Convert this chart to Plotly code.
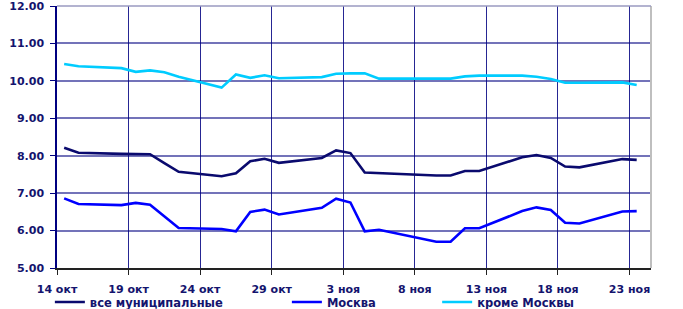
import plotly.graph_objects as go

dates = ["2010-10-14", "2010-10-15", "2010-10-18", "2010-10-19", "2010-10-20", "2010-10-21",
         "2010-10-22", "2010-10-25", "2010-10-26", "2010-10-27", "2010-10-28", "2010-10-29",
         "2010-11-01", "2010-11-02", "2010-11-03", "2010-11-04", "2010-11-05", "2010-11-09",
         "2010-11-10", "2010-11-11", "2010-11-12", "2010-11-15", "2010-11-16", "2010-11-17",
         "2010-11-18", "2010-11-19", "2010-11-22", "2010-11-23"]

all_munis = [8.21, 8.08, 8.05, 8.05, 8.04, 7.80, 7.57, 7.45, 7.53, 7.85, 7.92, 7.81,
             7.94, 8.14, 8.07, 7.55, 7.53, 7.47, 7.47, 7.59, 7.59, 7.96, 8.02, 7.94,
             7.71, 7.69, 7.91, 7.89]
moscow = [6.86, 6.71, 6.68, 6.74, 6.69, 6.38, 6.07, 6.04, 5.98, 6.50, 6.56, 6.43,
          6.61, 6.85, 6.75, 5.98, 6.02, 5.70, 5.70, 6.06, 6.06, 6.52, 6.62, 6.55,
          6.21, 6.19, 6.51, 6.52]
ex_moscow = [10.45, 10.39, 10.34, 10.24, 10.28, 10.23, 10.11, 9.82, 10.17, 10.08, 10.15, 10.07,
             10.10, 10.19, 10.20, 10.20, 10.06, 10.06, 10.06, 10.12, 10.14, 10.14, 10.11, 10.05,
             9.95, 9.95, 9.96, 9.89]

series_names = ["все муниципальные", "Москва", "кроме Москвы"]
series_colors = ["#0A0A6E", "#0000FF", "#00CCFF"]

tick_dates = ["2010-10-14", "2010-10-19", "2010-10-24", "2010-10-29", "2010-11-03",
              "2010-11-08", "2010-11-13", "2010-11-18", "2010-11-23"]
tick_labels = ["14 окт", "19 окт", "24 окт", "29 окт", "3 ноя", "8 ноя", "13 ноя", "18 ноя", "23 ноя"]
y_ticks = [5, 6, 7, 8, 9, 10, 11, 12]

TXT = "#14146E"
FONT = dict(family="DejaVu Sans", size=11, color=TXT, weight="bold")

fig = go.Figure()
legends = ["legend", "legend2", "legend3"]
for vals, name, col, lg in zip([all_munis, moscow, ex_moscow], series_names, series_colors, legends):
    fig.add_trace(go.Scatter(
        x=dates, y=vals, name=name, mode="lines",
        line=dict(color=col, width=2.6),
        xperiod=86400000, xperiodalignment="middle",
        legend=lg,
    ))

leg_common = dict(orientation="h", yanchor="middle", y=-0.13, xanchor="left",
                  font=dict(family="DejaVu Sans", size=11.5, color=TXT, weight="bold"),
                  bgcolor="rgba(0,0,0,0)", borderwidth=0, itemwidth=30)

fig.update_layout(
    width=683, height=309,
    margin=dict(l=57, r=32, t=6, b=41, autoexpand=False),
    paper_bgcolor="white", plot_bgcolor="white",
    showlegend=True,
    legend=dict(x=-0.012, **leg_common),
    legend2=dict(x=0.387, **leg_common),
    legend3=dict(x=0.640, **leg_common),
    xaxis=dict(
        type="date", automargin=False,
        range=["2010-10-14", "2010-11-24 12:00"],
        tickvals=tick_dates, ticktext=tick_labels,
        tickfont=FONT,
        showgrid=True, gridcolor="rgba(0,0,128,0.85)", gridwidth=1.2,
        showline=True, linecolor="#222222", linewidth=2,
        ticks="outside", ticklen=5, tickcolor="#222222",
        ticklabelstandoff=5,
        zeroline=False,
    ),
    yaxis=dict(
        automargin=False,
        range=[4.9999, 12.0001],
        tickvals=y_ticks, tickformat=".2f",
        tickfont=FONT,
        showgrid=True, gridcolor="rgba(0,0,128,0.55)", gridwidth=1.6,
        showline=True, linecolor="#000080", linewidth=1.5,
        ticks="outside", ticklen=5, tickcolor="#000080",
        ticklabelstandoff=4, ticklabeloverflow="allow",
        zeroline=False,
    ),
    shapes=[
        dict(type="line", xref="paper", yref="paper", x0=1, x1=1, y0=0, y1=1,
             line=dict(color="#BFBFBF", width=2)),
        dict(type="line", xref="paper", yref="paper", x0=0, x1=1, y0=1, y1=1,
             line=dict(color="#9A9AC0", width=1.5)),
    ],
)

fig.write_html("out.html", config={"displayModeBar": False},
               post_script="document.body.style.margin='0';")
